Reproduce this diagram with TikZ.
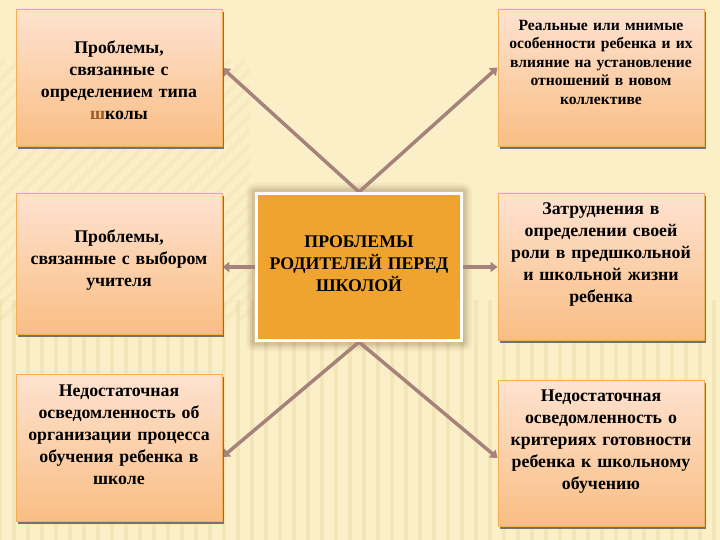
\documentclass[tikz,border=0pt]{standalone}
\usepackage{fontspec}
\setmainfont{Liberation Serif}
\usetikzlibrary{shadows,arrows.meta,calc,backgrounds}
\definecolor{bg}{HTML}{FBEFC8}
\definecolor{stripe}{HTML}{EAD7A0}
\definecolor{boxtop}{HTML}{FEE2D0}
\definecolor{boxbot}{HTML}{F9BE84}
\definecolor{boxline}{HTML}{F5AE55}
\definecolor{corange}{HTML}{EFA42F}
\definecolor{conncol}{HTML}{A5837A}
\definecolor{glowcol}{HTML}{7A5A3A}
\definecolor{brownish}{HTML}{9A5A25}
\tikzset{
  pbox/.style={draw=boxline, line width=0.9pt, top color=boxtop, bottom color=boxbot,
    inner sep=0pt, minimum width=206pt,
    drop shadow={shadow xshift=2pt, shadow yshift=-3pt, fill=black!60, opacity=0.9}},
  cbox/.style={draw=white, line width=3pt, fill=corange, inner sep=0pt,
    minimum width=205pt, minimum height=147pt},
  ptext/.style={text width=200pt, align=center, inner sep=0pt,
    font=\fontsize{17.8}{22}\selectfont\bfseries},
  psmall/.style={text width=200pt, align=center, inner sep=0pt,
    font=\fontsize{15.6}{18.5}\selectfont\bfseries},
  ctext/.style={text width=200pt, align=center, inner sep=0pt,
    font=\fontsize{17.8}{22}\selectfont\bfseries},
  conn/.style={draw=conncol, line width=3.5pt, -{Triangle[length=7pt,width=10pt]}}
}
\begin{document}
\begin{tikzpicture}[x=1pt,y=-1pt]
\useasboundingbox (0,0) rectangle (720,540);
\begin{pgfonlayer}{background}
\fill[bg] (0,0) rectangle (720,540);
\begin{scope}
\clip (0,300) rectangle (720,540);
\foreach \i in {0,14,...,720} {
  \draw[stripe, line width=4pt, opacity=0.4] (\i,300) -- (\i,540);
}
\end{scope}
\begin{scope}
\clip (0,60) rectangle (250,320);
\foreach \i in {-300,-285,...,260} {
  \draw[stripe, line width=4pt, opacity=0.22] (\i,320) -- (\i+260,60);
}
\end{scope}
\end{pgfonlayer}

% boxes
\node[pbox, minimum height=137pt] (tl) at (119,77.5) {};
\node[pbox, minimum height=141pt] (ml) at (119,263.5) {};
\node[pbox, minimum height=147pt] (bl) at (119,447.5) {};
\node[pbox, minimum height=137pt] (tr) at (601,77.5) {};
\node[pbox, minimum height=147pt] (mr) at (601,266.5) {};
\node[pbox, minimum height=146pt] (br) at (601,453) {};
\node[cbox] (c) at (359,267) {};

% texts
\node[ptext] (tlt) at (119,80) {Проблемы,\\ связанные с\\ определением типа\\ {\color{brownish}ш}колы};
\node[ptext] (mlt) at (119,260) {Проблемы,\\ связанные с выбором\\ учителя};
\node[ptext] (blt) at (119,435) {Недостаточная\\ осведомленность об\\ организации процесса\\ обучения ребенка в\\ школе};
\node[psmall] (trt) at (601,62) {Реальные или мнимые\\ особенности ребенка и их\\ влияние на установление\\ отношений в новом\\ коллективе};
\node[ptext] (mrt) at (601,255) {Затруднения в\\ определении своей\\ роли в предшкольной\\ и школьной жизни\\ ребенка};
\node[ptext] (brt) at (601,441.5) {Недостаточная\\ осведомленность о\\ критериях готовности\\ ребенка к школьному\\ обучению};
\node[ctext] (ct) at (359,264) {ПРОБЛЕМЫ\\ РОДИТЕЛЕЙ ПЕРЕД\\ ШКОЛОЙ};

% glow and connectors
\begin{pgfonlayer}{background}
\foreach \g/\o in {9/0.05,7/0.07,5/0.09,3/0.12} {
  \fill[glowcol, opacity=\o, rounded corners=\g pt]
    ([xshift=-\g pt, yshift=\g pt]c.north west) rectangle ([xshift=\g pt, yshift=-\g pt]c.south east);
}
\draw[conn] (c.north) -- ([yshift=9.5pt]tl.east);
\draw[conn] (c.north) -- ([yshift=10pt]tr.west);
\draw[conn] (c.south) -- ([yshift=-9.5pt]bl.east);
\draw[conn] (c.south) -- ([yshift=-5pt]br.west);
\draw[conn] (c.west) -- ([yshift=-3.5pt]ml.east);
\draw[conn] (c.east) -- ([yshift=-0.5pt]mr.west);
\end{pgfonlayer}
\end{tikzpicture}
\end{document}
